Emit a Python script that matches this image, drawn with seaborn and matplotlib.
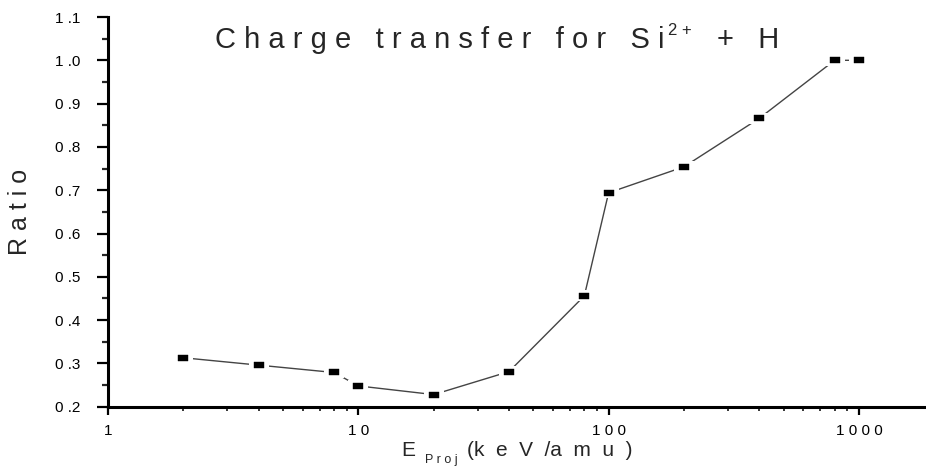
import numpy as np
import pandas as pd
import matplotlib
matplotlib.use("Agg")
import matplotlib.pyplot as plt
from matplotlib.path import Path
import seaborn as sns

# Projectile energy (keV/amu) and charge-transfer ratio
energy = [2, 4, 8, 10, 20, 40, 80, 100, 200, 400, 800, 1000]
ratio = [0.313, 0.296, 0.279, 0.248, 0.228, 0.281, 0.456, 0.694, 0.754, 0.866, 1.0, 1.0]

y_ticks = [0.2, 0.3, 0.4, 0.5, 0.6, 0.7, 0.8, 0.9, 1.0, 1.1]
y_tick_labels = ["0 .2", "0 .3", "0 .4", "0 .5", "0 .6", "0 .7", "0 .8", "0 .9", "1 .0", "1 .1"]
x_ticks = [1, 10, 100, 1000]
x_tick_labels = ["1", "1 0", "1 0 0", "1 0 0 0"]

# title and axis labels, split into normal / raised / lowered runs
title_parts = ["C h a r g e   t r a n s f e r   f o r   S i", "2 +", "+   H"]
x_label_parts = ["E", "P r o j", "(k  e  V  /a  m  u  )"]
y_label = "R a t i o"

df = pd.DataFrame({"energy": energy, "ratio": ratio})

sns.set_style("white")
plt.rcParams["font.family"] = ["Liberation Sans", "DejaVu Sans"]

W, H = 926, 467
fig = plt.figure(figsize=(W / 100, H / 100), dpi=100)
ax = fig.add_axes([108 / W, 1 - 406.7 / H, (W - 108) / W, (406.7 - 17) / H])
ax.set_xscale("log")

# connecting line
sns.lineplot(data=df, x="energy", y="ratio", color="#444444", linewidth=1.0,
             ax=ax, zorder=2)

# flat rectangular markers, with a white halo that breaks the line near each point
rect = Path([(-1, -0.55), (1, -0.55), (1, 0.55), (-1, 0.55), (-1, -0.55)],
            [Path.MOVETO, Path.LINETO, Path.LINETO, Path.LINETO, Path.CLOSEPOLY])
sns.scatterplot(data=df, x="energy", y="ratio", marker=rect, s=14.5 ** 2,
                color="white", edgecolor="none", linewidth=0, ax=ax, zorder=3)
sns.scatterplot(data=df, x="energy", y="ratio", marker=rect, s=7.4 ** 2,
                color="black", edgecolor="black", linewidth=0.3, ax=ax, zorder=4)

ax.set_xlim(1, 1854)
ax.set_ylim(0.2, 1.1)
ax.set_xlabel("")
ax.set_ylabel("")

for side in ("top", "right"):
    ax.spines[side].set_visible(False)
for side in ("left", "bottom"):
    ax.spines[side].set_linewidth(2.2)
    ax.spines[side].set_color("black")

ax.set_yticks(y_ticks)
ax.set_yticklabels(y_tick_labels)
ax.set_yticks(np.arange(0.25, 1.1, 0.1), minor=True)
ax.set_xticks(x_ticks)
ax.set_xticklabels(x_tick_labels)
ax.xaxis.set_minor_locator(matplotlib.ticker.LogLocator(base=10, subs=np.arange(2, 10), numticks=20))
ax.xaxis.set_minor_formatter(matplotlib.ticker.NullFormatter())

ax.tick_params(axis="y", which="major", direction="out", length=8, width=1.6, left=True,
               labelsize=11, pad=12, colors="black")
ax.tick_params(axis="y", which="minor", direction="out", length=4.5, width=1.6, left=True)
ax.tick_params(axis="x", which="major", direction="out", length=5.5, width=1.6, bottom=True,
               labelsize=11, pad=7, colors="black")
ax.tick_params(axis="x", which="minor", direction="out", length=3.2, width=1.3, bottom=True)

fig.text(20 / W, 1 - 212 / H, y_label, rotation=90, fontsize=18,
         ha="center", va="center")

renderer = fig.canvas.get_renderer()


def text_run(x0, baseline, pieces):
    """Place text pieces left to right; each piece is (text, size, dy_px, gap_px)."""
    x = x0
    for s, size, dy, gap in pieces:
        x += gap
        t = fig.text(x / W, 1 - (baseline + dy) / H, s, fontsize=size,
                     ha="left", va="baseline")
        bb = t.get_window_extent(renderer)
        x = bb.x1


# title: Si with a 2+ superscript
text_run(215, 48, [
    (title_parts[0], 21, 0, 0),
    (title_parts[1], 12, -13, 3),
    (title_parts[2], 21, 0, 26),
])

# x label: E with a Proj subscript
text_run(401, 456, [
    (x_label_parts[0], 15, 0, 0),
    (x_label_parts[1], 9, 7, 10),
    (x_label_parts[2], 15, 0, 9),
])

fig.savefig("out.png", dpi=100)
